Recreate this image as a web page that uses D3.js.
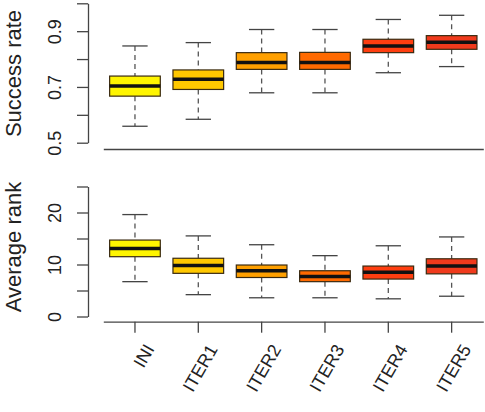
<!DOCTYPE html>
<html>
<head>
<meta charset="utf-8">
<script src="https://cdn.jsdelivr.net/npm/d3@7"></script>
<style>
  html, body { margin: 0; padding: 0; background: #fff; }
  svg { display: block; font-family: "Liberation Sans", Arial, sans-serif; }
</style>
</head>
<body>
<svg id="chart" width="485" height="412"></svg>
<script>
// ---- data ----
const categories = ["INI", "ITER1", "ITER2", "ITER3", "ITER4", "ITER5"];
const boxColors  = ["#FFF500", "#FFC800", "#FFA000", "#FF6A00", "#FF3E10", "#F03A1C"];

const successLow  = [0.559, 0.584, 0.679, 0.679, 0.751, 0.773];
const successQ1   = [0.667, 0.691, 0.763, 0.763, 0.823, 0.835];
const successMed  = [0.703, 0.728, 0.788, 0.788, 0.847, 0.860];
const successQ3   = [0.739, 0.761, 0.823, 0.824, 0.871, 0.884];
const successHigh = [0.847, 0.859, 0.906, 0.906, 0.942, 0.957];

const rankLow  = [6.7, 4.2, 3.6, 3.6, 3.4, 3.9];
const rankQ1   = [11.5, 8.3, 7.5, 6.7, 7.2, 8.2];
const rankMed  = [13.1, 9.8, 8.8, 7.7, 8.5, 9.7];
const rankQ3   = [14.7, 11.2, 9.9, 8.8, 9.7, 11.1];
const rankHigh = [19.6, 15.5, 13.8, 11.7, 13.6, 15.3];

const successTicks = [0.5, 0.6, 0.7, 0.8, 0.9, 1.0];
const successLabels = [0.5, 0.7, 0.9];
const rankTicks = [0, 5, 10, 15, 20, 25];
const rankLabels = [0, 10, 20];

// ---- layout ----
const svg = d3.select("#chart");
const axisX = 88;
const x = d3.scaleBand().domain(categories).range([103.3, 483.3]).padding(0);
const step = x.step();
const boxW = step * 0.8;
const capW = step * 0.4;

const yTop = d3.scaleLinear().domain([0.5, 1.0]).range([142.7, 3.3]);
const yBot = d3.scaleLinear().domain([0, 25]).range([316.5, 186.5]);

const axisColor = "#444";

function drawPanel(y, low, q1, med, q3, high, ticks, labels, fmt, title, titleY, baseY, showXTicks) {
  // y axis
  const ax = d3.axisLeft(y).tickValues(ticks).tickSize(11).tickSizeOuter(0)
    .tickFormat(d => labels.some(l => Math.abs(l - d) < 1e-9) ? fmt(d) : "");
  const g = svg.append("g").attr("transform", `translate(${axisX},0)`).call(ax);
  g.select(".domain").attr("stroke", axisColor).attr("stroke-width", 1.3);
  g.selectAll(".tick line").attr("stroke", axisColor).attr("stroke-width", 1.3);
  g.selectAll(".tick text")
    .attr("transform", "rotate(-90)")
    .attr("x", 0).attr("y", -27).attr("dy", 0)
    .attr("text-anchor", "middle")
    .attr("fill", "#222")
    .style("font-size", "18px")
    .style("font-family", '"Liberation Sans", Arial, sans-serif');

  // y title
  svg.append("text")
    .attr("transform", `translate(21,${titleY}) rotate(-90)`)
    .attr("text-anchor", "middle")
    .attr("fill", "#222")
    .style("font-size", "22px")
    .text(title);

  // x axis line
  const xa = d3.axisBottom(x).tickSize(showXTicks ? 11 : 0).tickSizeOuter(0).tickFormat("");
  const gx = svg.append("g").attr("transform", `translate(0,${baseY})`).call(xa);
  gx.select(".domain").attr("stroke", axisColor).attr("stroke-width", 1.3);
  gx.selectAll(".tick line").attr("stroke", axisColor).attr("stroke-width", 1.3);
  if (!showXTicks) gx.selectAll(".tick line").remove();

  // boxes
  const data = categories.map((c, i) => ({c, i, low: low[i], q1: q1[i], med: med[i], q3: q3[i], high: high[i]}));
  const bg = svg.append("g").selectAll("g").data(data).join("g")
    .attr("transform", d => `translate(${x(d.c) + step / 2},0)`);

  // whiskers (dashed)
  bg.append("line").attr("x1", 0).attr("x2", 0)
    .attr("y1", d => y(d.high)).attr("y2", d => y(d.q3))
    .attr("stroke", "#555").attr("stroke-width", 1.3).attr("stroke-dasharray", "5,4");
  bg.append("line").attr("x1", 0).attr("x2", 0)
    .attr("y1", d => y(d.q1)).attr("y2", d => y(d.low))
    .attr("stroke", "#555").attr("stroke-width", 1.3).attr("stroke-dasharray", "5,4");
  // caps
  bg.append("line").attr("x1", -capW / 2).attr("x2", capW / 2)
    .attr("y1", d => y(d.high)).attr("y2", d => y(d.high))
    .attr("stroke", "#444").attr("stroke-width", 1.3);
  bg.append("line").attr("x1", -capW / 2).attr("x2", capW / 2)
    .attr("y1", d => y(d.low)).attr("y2", d => y(d.low))
    .attr("stroke", "#444").attr("stroke-width", 1.3);
  // box
  bg.append("rect")
    .attr("x", -boxW / 2).attr("width", boxW)
    .attr("y", d => y(d.q3)).attr("height", d => y(d.q1) - y(d.q3))
    .attr("fill", d => boxColors[d.i])
    .attr("stroke", "#3a2a10").attr("stroke-width", 1.2);
  // median
  bg.append("line").attr("x1", -boxW / 2).attr("x2", boxW / 2)
    .attr("y1", d => y(d.med)).attr("y2", d => y(d.med))
    .attr("stroke", "#111").attr("stroke-width", 3.5);
}

drawPanel(yTop, successLow, successQ1, successMed, successQ3, successHigh,
  successTicks, successLabels, d3.format(".1f"), "Success rate", 73.5, 149, false);
drawPanel(yBot, rankLow, rankQ1, rankMed, rankQ3, rankHigh,
  rankTicks, rankLabels, d3.format("d"), "Average rank", 247, 321.7, true);

// rotated category labels
svg.append("g").selectAll("text").data(categories).join("text")
  .attr("transform", d => `translate(${x(d) + step / 2 + 20},349) rotate(-60)`)
  .attr("text-anchor", "end")
  .attr("fill", "#222")
  .style("font-size", "18px")
  .text(d => d);
</script>
</body>
</html>
